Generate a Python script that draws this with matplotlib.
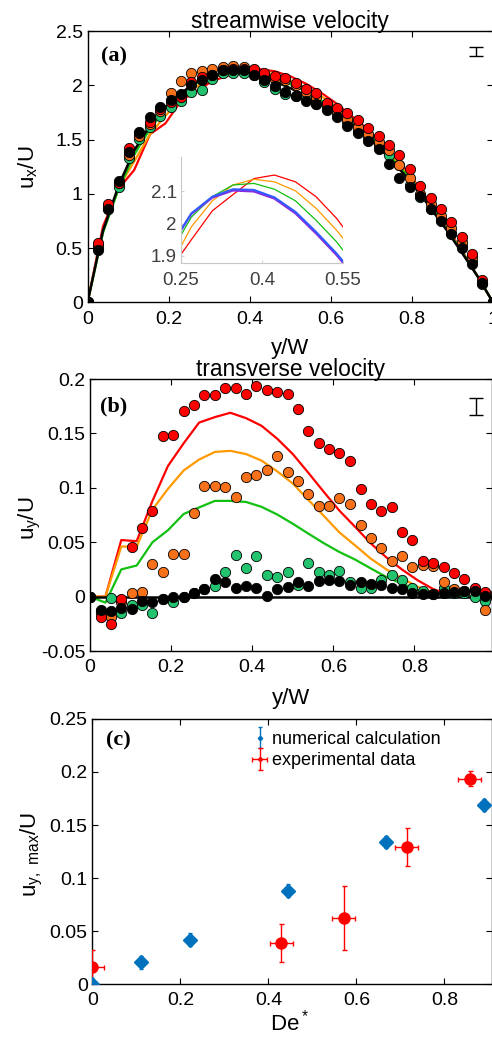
import matplotlib
matplotlib.use("Agg")
import matplotlib.pyplot as plt
from matplotlib.ticker import FuncFormatter
from matplotlib.legend_handler import HandlerErrorbar

plt.rcParams['font.family'] = ['Liberation Sans', 'DejaVu Sans']
plt.rcParams['mathtext.fontset'] = 'custom'
plt.rcParams['mathtext.rm'] = 'Liberation Sans'

# measured positions (y/W)
yw = [0, 0.026, 0.051, 0.077, 0.103, 0.128, 0.154, 0.179, 0.205, 0.231,
      0.256, 0.282, 0.308, 0.333, 0.359, 0.385, 0.410, 0.436, 0.462, 0.487,
      0.513, 0.538, 0.564, 0.590, 0.615, 0.641, 0.667, 0.692, 0.718, 0.744,
      0.769, 0.795, 0.821, 0.846, 0.872, 0.897, 0.923, 0.949, 0.974, 1.0]

# (a) streamwise velocity, experiments
ux_red = [0, 0.55, 0.91, 1.10, 1.42, 1.56, 1.66, 1.78, 1.85, 1.89,
          2.03, 2.08, 2.10, 2.14, 2.15, 2.15, 2.15, 2.11, 2.09, 2.07,
          2.02, 1.97, 1.93, 1.84, 1.79, 1.75, 1.68, 1.61, 1.53, 1.45,
          1.355, 1.225, 1.07, 0.96, 0.856, 0.74, 0.60, 0.447, 0.207, 0]
ux_orange = [0, 0.52, 0.89, 1.10, 1.36, 1.53, 1.64, 1.76, 1.93, 2.04,
             2.11, 2.13, 2.15, 2.17, 2.18, 2.17, 2.14, 2.09, 2.06, 2.05,
             2.00, 1.94, 1.89, 1.82, 1.76, 1.69, 1.62, 1.55, 1.48, 1.40,
             1.27, 1.15, 1.00, 0.91, 0.80, 0.69, 0.56, 0.42, 0.18, 0]
ux_green = [0, 0.50, 0.86, 1.06, 1.33, 1.51, 1.62, 1.72, 1.80, 1.86,
            1.94, 1.96, 2.06, 2.11, 2.11, 2.11, 2.10, 2.03, 1.97, 1.92,
            1.90, 1.88, 1.83, 1.78, 1.73, 1.66, 1.58, 1.52, 1.44, 1.36,
            1.27, 1.08, 0.97, 0.86, 0.76, 0.64, 0.52, 0.38, 0.17, 0]
ux_black = [0, 0.48, 0.86, 1.12, 1.39, 1.57, 1.71, 1.80, 1.87, 1.92,
            2.00, 2.05, 2.10, 2.14, 2.14, 2.14, 2.10, 2.05, 1.99, 1.94,
            1.90, 1.86, 1.83, 1.77, 1.71, 1.63, 1.56, 1.49, 1.41, 1.28,
            1.15, 1.06, 0.98, 0.86, 0.75, 0.63, 0.50, 0.35, 0.18, 0]

# simulation grid
ys = [0, 0.038, 0.077, 0.115, 0.154, 0.192, 0.231, 0.269, 0.308, 0.346,
      0.385, 0.423, 0.462, 0.5, 0.538, 0.577, 0.615, 0.654, 0.692, 0.731,
      0.769, 0.808, 0.846, 0.885, 0.923, 0.962, 1.0]

sx_black = [0, 0.66, 1.08, 1.40, 1.63, 1.80, 1.93, 2.032, 2.084, 2.107,
            2.105, 2.082, 2.037, 1.975, 1.908, 1.83, 1.74, 1.64, 1.52, 1.38,
            1.23, 1.06, 0.87, 0.67, 0.46, 0.24, 0]
sx_purple = [0, 0.66, 1.08, 1.40, 1.63, 1.80, 1.93, 2.030, 2.081, 2.103,
             2.100, 2.078, 2.032, 1.970, 1.903, 1.825, 1.735, 1.635, 1.52, 1.38,
             1.23, 1.06, 0.87, 0.67, 0.46, 0.24, 0]
sx_green = [0, 0.64, 1.05, 1.36, 1.60, 1.78, 1.91, 2.02, 2.084, 2.12,
            2.125, 2.107, 2.071, 2.011, 1.944, 1.86, 1.77, 1.67, 1.55, 1.41,
            1.25, 1.08, 0.89, 0.68, 0.47, 0.24, 0]
sx_orange = [0, 0.66, 1.06, 1.30, 1.55, 1.72, 1.87, 1.99, 2.071, 2.12,
             2.138, 2.13, 2.102, 2.048, 1.98, 1.90, 1.80, 1.69, 1.57, 1.43,
             1.27, 1.10, 0.90, 0.69, 0.47, 0.24, 0]
sx_red = [0, 0.70, 1.05, 1.22, 1.55, 1.65, 1.86, 1.95, 2.04, 2.09,
          2.14, 2.151, 2.13, 2.084, 2.017, 1.93, 1.83, 1.71, 1.59, 1.45,
          1.29, 1.11, 0.91, 0.70, 0.48, 0.24, 0]

# (b) transverse velocity, experiments
uy_red = [0, -0.019, -0.025, -0.0025, 0.0455, 0.063, 0.0785, 0.148, 0.149, 0.171,
          0.176, 0.185, 0.185, 0.192, 0.192, 0.186, 0.194, 0.19, 0.188, 0.186,
          0.172, 0.152, 0.141, 0.136, 0.132, 0.125, 0.099, 0.0855, 0.0785, 0.0825,
          0.059, 0.0517, 0.033, 0.031, 0.027, 0.022, 0.016, 0.0077, 0.0046, 0.003]
uy_orange = [0, -0.015, -0.019, -0.005, 0.003, 0.004, 0.030, 0.023, 0.039, 0.039,
             0.077, 0.102, 0.102, 0.101, 0.092, 0.110, 0.112, 0.116, 0.129, 0.115,
             0.106, 0.094, 0.083, 0.083, 0.091, 0.085, 0.066, 0.054, 0.045, 0.033,
             0.037, 0.027, 0.029, 0.028, 0.013, 0.007, 0.005, 0.007, -0.012, 0]
uy_green = [0, -0.013, -0.0015, -0.015, -0.008, -0.008, -0.015, -0.002, -0.005, 0.0,
            0.003, 0.007, 0.010, 0.023, 0.038, 0.026, 0.037, 0.020, 0.018, 0.023,
            0.011, 0.031, 0.023, 0.020, 0.024, 0.013, 0.008, 0.008, 0.015, 0.020,
            0.015, 0.008, 0.005, 0.002, 0.008, 0.003, 0.003, 0.0, -0.004, 0]
uy_black = [0, -0.012, -0.013, -0.010, -0.011, -0.004, -0.005, -0.002, 0.0, 0.0,
            0.003, 0.007, 0.016, 0.013, 0.008, 0.010, 0.008, 0.001, 0.007, 0.009,
            0.013, 0.010, 0.014, 0.015, 0.014, 0.011, 0.013, 0.012, 0.011, 0.008,
            0.007, 0.003, 0.002, 0.002, 0.003, 0.004, 0.005, 0.005, 0.001, 0]

sy_red = [0, 0, 0.052, 0.051, 0.088, 0.12, 0.141, 0.160, 0.165, 0.169,
          0.164, 0.157, 0.145, 0.131, 0.114, 0.096, 0.079, 0.064, 0.049, 0.036,
          0.025, 0.015, 0.007, 0.002, 0, 0, 0]
sy_orange = [0, 0, 0.046, 0.046, 0.080, 0.099, 0.116, 0.126, 0.133, 0.134,
             0.131, 0.125, 0.115, 0.104, 0.089, 0.074, 0.059, 0.047, 0.035, 0.025,
             0.017, 0.009, 0.004, 0.001, 0, 0, 0]
sy_green = [0, -0.0055, 0.025, 0.0286, 0.050, 0.061, 0.076, 0.082, 0.088, 0.088,
            0.087, 0.0825, 0.0754, 0.067, 0.058, 0.049, 0.041, 0.034, 0.026, 0.018,
            0.012, 0.006, 0.003, 0.001, 0, 0, 0]
sy_black_x = [0, 1]
sy_black = [0, 0]

# (c) maximum transverse velocity vs De*
de_num = [0, 0.111, 0.222, 0.444, 0.667, 0.889]
uymax_num = [0, 0.0204, 0.042, 0.088, 0.134, 0.169]
uymax_num_err = [0.006, 0.006, 0.006, 0.006, 0.006, 0.006]
de_exp = [0, 0.429, 0.571, 0.714, 0.857]
de_exp_err = [0.026, 0.026, 0.026, 0.026, 0.026]
uymax_exp = [0.0164, 0.0384, 0.062, 0.1296, 0.1937]
uymax_exp_err = [0.016, 0.018, 0.030, 0.018, 0.007]

C_RED = '#ff0000'
C_ORANGE = '#f7701a'
C_GREEN = '#22c26e'
L_ORANGE = '#ff9900'
L_GREEN = '#11c011'

TICK = 14
LAB = 16

fmt = FuncFormatter(lambda v, p: '%g' % round(v, 4))


def style(ax):
    ax.tick_params(direction='in', top=True, right=True, length=4, width=0.8,
                   labelsize=TICK)
    ax.tick_params(axis='x', pad=6)
    ax.tick_params(axis='y', pad=3.5)
    for s in ax.spines.values():
        s.set_linewidth(1.0)
    ax.xaxis.set_major_formatter(fmt)
    ax.yaxis.set_major_formatter(fmt)


def dots(ax, y, c):
    ax.plot(yw, y, 'o', ms=7.4, mfc=c, mec='k', mew=0.6, zorder=3)


fig = plt.figure(figsize=(4.92, 10.39), dpi=100)

# ---- (a)
ax = fig.add_axes([0.178, 0.709, 0.824, 0.261])
ax.plot(ys, sx_red, color=C_RED, lw=1.6, zorder=2)
ax.plot(ys, sx_orange, color=L_ORANGE, lw=1.6, zorder=2)
ax.plot(ys, sx_green, color=L_GREEN, lw=1.6, zorder=2)
ax.plot(ys, sx_black, color='k', lw=1.8, zorder=2)
dots(ax, ux_green, C_GREEN)
dots(ax, ux_orange, C_ORANGE)
dots(ax, ux_red, C_RED)
dots(ax, ux_black, 'k')
ax.errorbar([0.957], [2.31], yerr=[0.042], fmt='none', ecolor='k',
            capsize=4.7, elinewidth=1, capthick=1)
ax.set_xlim(0, 1)
ax.set_ylim(0, 2.5)
ax.set_xticks([0, 0.2, 0.4, 0.6, 0.8, 1.0])
ax.set_yticks([0, 0.5, 1, 1.5, 2, 2.5])
style(ax)
ax.set_title('streamwise velocity', fontsize=16.4, pad=2)
ax.set_xlabel('y/W', fontsize=LAB)
ax.xaxis.set_label_coords(0.5, -0.133)
ax.set_ylabel(r'$\mathregular{u_x/U}$', fontsize=LAB)
ax.yaxis.set_label_coords(-0.117, 0.5)
ax.text(0.034, 0.905, '(a)', transform=ax.transAxes, fontsize=16,
        fontweight='bold', family='Liberation Serif', va='center')

# inset
ins = fig.add_axes([0.368, 0.7466, 0.329, 0.1026])
ins.plot(ys, sx_red, color=C_RED, lw=0.9)
ins.plot(ys, sx_orange, color=L_ORANGE, lw=0.9)
ins.plot(ys, sx_green, color=L_GREEN, lw=0.9)
ins.plot(ys, sx_purple, color='#8a2be2', lw=1.6)
ins.plot(ys, sx_black, color='#2f5cff', lw=1.4)
ins.set_xlim(0.25, 0.55)
ins.set_ylim(1.877, 2.208)
ins.set_xticks([0.25, 0.4, 0.55])
ins.set_yticks([1.9, 2.0, 2.1])
ins.xaxis.set_major_formatter(fmt)
ins.yaxis.set_major_formatter(fmt)
ins.patch.set_alpha(0)
for side in ['top', 'right']:
    ins.spines[side].set_visible(False)
for side in ['left', 'bottom']:
    ins.spines[side].set_color('#c8c8c8')
    ins.spines[side].set_linewidth(0.8)
ins.tick_params(direction='in', length=2.5, width=0.6, color='#c8c8c8',
                labelcolor='#404040', labelsize=13.5)
ins.tick_params(axis='x', pad=6)
ins.tick_params(axis='y', pad=3)

# ---- (b)
ax = fig.add_axes([0.183, 0.3734, 0.816, 0.2618])
ax.plot(ys, sy_red, color=C_RED, lw=1.6, zorder=2)
ax.plot(ys, sy_orange, color=L_ORANGE, lw=1.6, zorder=2)
ax.plot(ys, sy_green, color=L_GREEN, lw=1.6, zorder=2)
ax.plot(sy_black_x, sy_black, color='k', lw=1.8, zorder=2)
dots(ax, uy_green, C_GREEN)
dots(ax, uy_orange, C_ORANGE)
dots(ax, uy_red, C_RED)
dots(ax, uy_black, 'k')
ax.errorbar([0.952], [0.175], yerr=[0.008], fmt='none', ecolor='k',
            capsize=4.7, elinewidth=1, capthick=1)
ax.set_xlim(0, 0.99)
ax.set_ylim(-0.05, 0.2)
ax.set_xticks([0, 0.2, 0.4, 0.6, 0.8])
ax.set_yticks([-0.05, 0, 0.05, 0.1, 0.15, 0.2])
style(ax)
ax.set_title('transverse velocity', fontsize=16.4, pad=2)
ax.set_xlabel('y/W', fontsize=LAB)
ax.xaxis.set_label_coords(0.5, -0.136)
ax.set_ylabel(r'$\mathregular{u_y/U}$', fontsize=LAB)
ax.yaxis.set_label_coords(-0.117, 0.49)
ax.text(0.025, 0.90, '(b)', transform=ax.transAxes, fontsize=16,
        fontweight='bold', family='Liberation Serif', va='center')

# ---- (c)
ax = fig.add_axes([0.188, 0.0529, 0.811, 0.2551])
ax.errorbar(de_exp, uymax_exp, xerr=de_exp_err, yerr=uymax_exp_err, fmt='o',
            color=C_RED, ms=8, elinewidth=1, capsize=1.8, capthick=1,
            label='experimental data', zorder=3)
ax.errorbar(de_num, uymax_num, yerr=uymax_num_err, fmt='D', color='#0072bd',
            ms=7.5, elinewidth=1, capsize=1.5, capthick=1,
            label='numerical calculation', zorder=4)
ax.set_xlim(0, 0.907)
ax.set_ylim(0, 0.25)
ax.set_xticks([0, 0.2, 0.4, 0.6, 0.8])
ax.set_yticks([0, 0.05, 0.1, 0.15, 0.2, 0.25])
style(ax)
ax.set_xlabel(r'$\mathregular{De^*}$', fontsize=LAB)
ax.xaxis.set_label_coords(0.494, -0.098)
ax.set_ylabel(r'$\mathregular{u_{y,\ max}/U}$', fontsize=LAB)
ax.yaxis.set_label_coords(-0.12, 0.49)
ax.text(0.033, 0.92, '(c)', transform=ax.transAxes, fontsize=16,
        fontweight='bold', family='Liberation Serif', va='center')

h, l = ax.get_legend_handles_labels()
leg = ax.legend(h[::-1], l[::-1], loc='upper left', bbox_to_anchor=(0.405, 0.955),
                frameon=False, fontsize=13, handlelength=0.6, handletextpad=0.4,
                borderaxespad=0, borderpad=0, labelspacing=0.25, markerscale=0.3,
                handler_map={type(h[0]): HandlerErrorbar(xerr_size=0.4, yerr_size=0.6)})

fig.savefig('out.png', dpi=100)
